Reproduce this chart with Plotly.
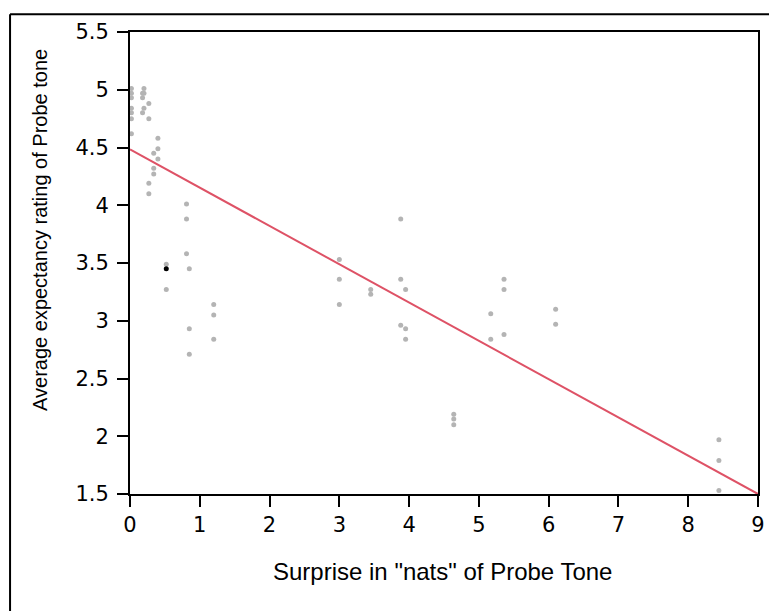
import plotly.graph_objects as go

# surprise (nats) vs average expectancy rating
surprise = [
    0.02, 0.02, 0.02, 0.02, 0.02, 0.02, 0.02,
    0.20, 0.18, 0.20, 0.18, 0.27, 0.20, 0.18, 0.27,
    0.40, 0.40, 0.34, 0.40, 0.34, 0.34, 0.27, 0.27,
    0.81, 0.81, 0.81, 0.52, 0.85, 0.52, 1.20, 1.20, 0.85, 1.20, 0.85,
    3.88, 3.00, 3.00, 3.88, 3.45, 3.95, 3.45, 3.00, 3.88, 3.95, 3.95,
    5.36, 5.36, 5.17, 6.10, 6.10, 5.36, 5.17,
    4.64, 4.64, 4.64,
    8.44, 8.44, 8.44,
]
rating = [
    5.01, 4.97, 4.93, 4.84, 4.80, 4.75, 4.62,
    5.01, 4.97, 4.97, 4.93, 4.88, 4.84, 4.80, 4.75,
    4.58, 4.49, 4.45, 4.40, 4.32, 4.27, 4.19, 4.10,
    4.01, 3.88, 3.58, 3.49, 3.45, 3.27, 3.14, 3.05, 2.93, 2.84, 2.71,
    3.88, 3.53, 3.36, 3.36, 3.27, 3.27, 3.23, 3.14, 2.96, 2.93, 2.84,
    3.36, 3.27, 3.06, 3.10, 2.97, 2.88, 2.84,
    2.19, 2.15, 2.10,
    1.97, 1.79, 1.53,
]
selected_x = [0.52]
selected_y = [3.45]

# fitted line
fit_x = [0, 9]
fit_y = [4.484, 1.5]

x_ticks = [0, 1, 2, 3, 4, 5, 6, 7, 8, 9]
y_ticks = [1.5, 2, 2.5, 3, 3.5, 4, 4.5, 5, 5.5]

fig = go.Figure()
fig.add_trace(go.Scatter(
    x=surprise, y=rating, mode="markers",
    marker=dict(size=5, color="#b4b4b4"), cliponaxis=False,
))
fig.add_trace(go.Scatter(
    x=selected_x, y=selected_y, mode="markers",
    marker=dict(size=5, color="black"),
))
fig.add_trace(go.Scatter(
    x=fit_x, y=fit_y, mode="lines",
    line=dict(color="rgb(222,82,102)", width=2),
))

axis_style = dict(
    showline=True, linecolor="black", linewidth=2, mirror=True,
    ticks="outside", ticklen=11, tickwidth=2, tickcolor="black",
    showgrid=False, zeroline=False,
    tickfont=dict(family="DejaVu Sans", size=21, color="black"),
)
fig.update_xaxes(range=[0, 9], tickvals=x_ticks, **axis_style)
fig.update_yaxes(range=[1.5, 5.5], tickvals=y_ticks, ticktext=[str(v) for v in y_ticks],
                 ticklabelstandoff=4, **axis_style)

fig.update_layout(
    # page body has an 8px offset, so the figure is a bit smaller than the window
    width=769, height=603,
    margin=dict(l=122, r=19, t=19, b=117),
    plot_bgcolor="white", paper_bgcolor="white",
    showlegend=False,
    annotations=[
        dict(text="Surprise in \"nats\" of Probe Tone", xref="paper", yref="paper",
             x=0.497, y=-0.167, xanchor="center", yanchor="middle", showarrow=False,
             font=dict(family="Liberation Sans", size=24, color="black")),
        dict(text="Average expectancy rating of Probe tone", xref="paper", yref="paper",
             x=-0.143, y=0.572, xanchor="center", yanchor="middle", textangle=-90,
             showarrow=False,
             font=dict(family="Liberation Sans", size=20, color="black")),
    ],
    shapes=[
        # outer frame, only the left and top edges are visible
        dict(type="line", xref="paper", yref="paper", x0=-0.191, x1=1.1, y0=1.0385, y1=1.0385,
             line=dict(color="black", width=2)),
        dict(type="line", xref="paper", yref="paper", x0=-0.191, x1=-0.191, y0=1.0385, y1=-0.3,
             line=dict(color="black", width=2)),
    ],
)

fig.write_html("out.html")
